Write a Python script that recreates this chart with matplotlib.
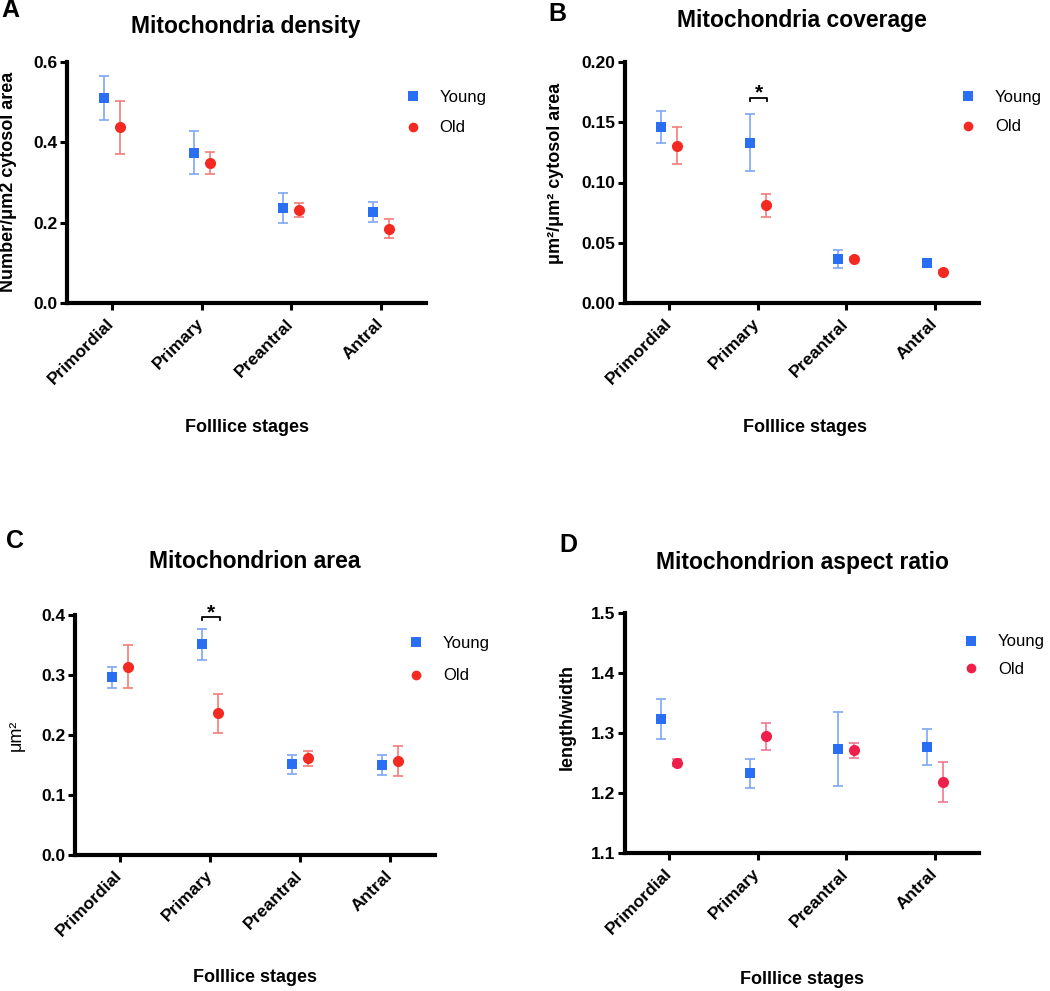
import matplotlib
matplotlib.use('Agg')
import matplotlib.pyplot as plt
import numpy as np

plt.rcParams['font.family'] = ['Liberation Sans', 'DejaVu Sans']

stages = ['Primordial', 'Primary', 'Preantral', 'Antral']

density_young = [0.510, 0.374, 0.236, 0.227]
density_young_err = [0.055, 0.053, 0.037, 0.025]
density_old = [0.438, 0.349, 0.232, 0.185]
density_old_err = [0.066, 0.028, 0.017, 0.024]

coverage_young = [0.146, 0.133, 0.0365, 0.033]
coverage_young_err = [0.013, 0.0235, 0.0077, 0.002]
coverage_old = [0.1305, 0.081, 0.0368, 0.026]
coverage_old_err = [0.0153, 0.0093, 0.001, 0.001]

area_young = [0.296, 0.351, 0.151, 0.150]
area_young_err = [0.018, 0.026, 0.016, 0.016]
area_old = [0.314, 0.236, 0.161, 0.156]
area_old_err = [0.036, 0.033, 0.012, 0.025]

aspect_young = [1.323, 1.233, 1.273, 1.277]
aspect_young_err = [0.033, 0.024, 0.062, 0.030]
aspect_old = [1.2505, 1.2945, 1.271, 1.218]
aspect_old_err = [0.006, 0.023, 0.012, 0.033]

W, H = 1050, 991
fig = plt.figure(figsize=(W / 100, H / 100), dpi=100)

BLUE = '#2a6ff3'
BLUE_ERR = '#7ea7f4'
RED = '#f42a22'
RED_ERR = '#f37d7a'
CRIMSON = '#ee1f4b'
CRIMSON_ERR = '#f07891'


def px(x, y):
	return x / W, 1 - y / H


def make_axes(left, top, right, bottom):
	return fig.add_axes([left / W, 1 - bottom / H, (right - left) / W, (bottom - top) / H])


def draw_panel(ax, young, young_err, old, old_err, ylim, yticks, fmt, old_color, old_err_color, leg_xy, leg_space):
	x = np.arange(len(stages))
	ax.errorbar(x - 0.09, young, yerr=young_err, fmt='none', ecolor=BLUE_ERR, elinewidth=1.2,
				capsize=3.5, capthick=1.2, zorder=2)
	ax.errorbar(x + 0.09, old, yerr=old_err, fmt='none', ecolor=old_err_color, elinewidth=1.2,
				capsize=3.5, capthick=1.2, zorder=2)
	ax.plot(x - 0.09, young, 's', color=BLUE, markersize=7.5, markeredgewidth=0, label='Young', zorder=3)
	ax.plot(x + 0.09, old, 'o', color=old_color, markersize=8, markeredgewidth=0, label='Old', zorder=3)

	ax.set_xlim(-0.5, 3.5)
	ax.set_ylim(*ylim)
	ax.set_yticks(yticks)
	ax.set_yticklabels([fmt.format(v) for v in yticks], fontsize=12.5, fontweight='bold')
	ax.set_xticks(x)
	ax.set_xticklabels(stages, rotation=45, ha='right', va='center', rotation_mode='anchor',
					   fontsize=12.5, fontweight='bold')
	for side in ['top', 'right']:
		ax.spines[side].set_visible(False)
	for side in ['left', 'bottom']:
		ax.spines[side].set_linewidth(3)
	ax.tick_params(axis='both', direction='out', length=5, width=2.2, pad=2)
	ax.tick_params(axis='x', pad=8)

	leg = ax.legend(loc='upper left', bbox_to_anchor=leg_xy, frameon=False, fontsize=12,
					handlelength=1.0, handletextpad=1.1, labelspacing=leg_space, borderpad=0,
					borderaxespad=0)
	for h in leg.legend_handles:
		h.set_markersize(7)


def bracket(ax, x0, x1, y, drop, star_y):
	ax.plot([x0, x0, x1, x1], [y - drop, y, y, y - drop], color='black', lw=1.3, clip_on=False, zorder=4)
	ax.text((x0 + x1) / 2, star_y, '*', ha='center', va='baseline', fontsize=15,
			fontweight='bold', clip_on=False)


# A
axA = make_axes(67, 62, 426, 303)
draw_panel(axA, density_young, density_young_err, density_old, density_old_err,
		   (0, 0.6), [0.0, 0.2, 0.4, 0.6], '{:.1f}', RED, RED_ERR, (0.94, 0.884), 0.93)
# B
axB = make_axes(625, 62, 979, 303)
draw_panel(axB, coverage_young, coverage_young_err, coverage_old, coverage_old_err,
		   (0, 0.2), [0.0, 0.05, 0.10, 0.15, 0.20], '{:.2f}', RED, RED_ERR, (0.946, 0.884), 0.87)
bracket(axB, 1 - 0.09, 1 + 0.11, 0.170, 0.0025, 0.1702)
# C
axC = make_axes(75, 615, 435, 855)
draw_panel(axC, area_young, area_young_err, area_old, area_old_err,
		   (0, 0.4), [0.0, 0.1, 0.2, 0.3, 0.4], '{:.1f}', RED, RED_ERR, (0.925, 0.913), 1.05)
bracket(axC, 1 - 0.09, 1 + 0.11, 0.396, 0.005, 0.394)
# D
axD = make_axes(625, 613, 979, 853)
draw_panel(axD, aspect_young, aspect_young_err, aspect_old, aspect_old_err,
		   (1.1, 1.5), [1.1, 1.2, 1.3, 1.4, 1.5], '{:.1f}', CRIMSON, CRIMSON_ERR, (0.955, 0.911), 0.75)

# panel letters
for letter, (lx, ly) in zip('ABCD', [(10, 10), (557, 14), (15, 541), (568, 545)]):
	fig.text(*px(lx, ly), letter, fontsize=18, fontweight='bold', ha='center', va='center')

# titles
titles = ['Mitochondria density', 'Mitochondria coverage', 'Mitochondrion area', 'Mitochondrion aspect ratio']
for t, (tx, ty) in zip(titles, [(246, 27), (802, 20), (255, 562), (802, 563)]):
	fig.text(*px(tx, ty), t, fontsize=16.5, fontweight='bold', ha='center', va='center')

# x labels
for (lx, ly) in [(247, 427), (805, 427), (255, 977), (802, 980)]:
	fig.text(*px(lx, ly), 'Folllice stages', fontsize=13, fontweight='bold', ha='center', va='center')

# y labels
fig.text(*px(9, 182), 'Number/μm2 cytosol area', fontsize=13, fontweight='bold',
		 rotation=90, ha='center', va='center')
fig.text(*px(555, 173), 'μm²/μm² cytosol area', fontsize=13, fontweight='bold',
		 rotation=90, ha='center', va='center')
fig.text(*px(16, 735), 'μm²', fontsize=13, rotation=90, ha='center', va='center')
fig.text(*px(567, 717), 'length/width', fontsize=13, fontweight='bold',
		 rotation=90, ha='center', va='center')

fig.savefig('out.png', dpi=100)
